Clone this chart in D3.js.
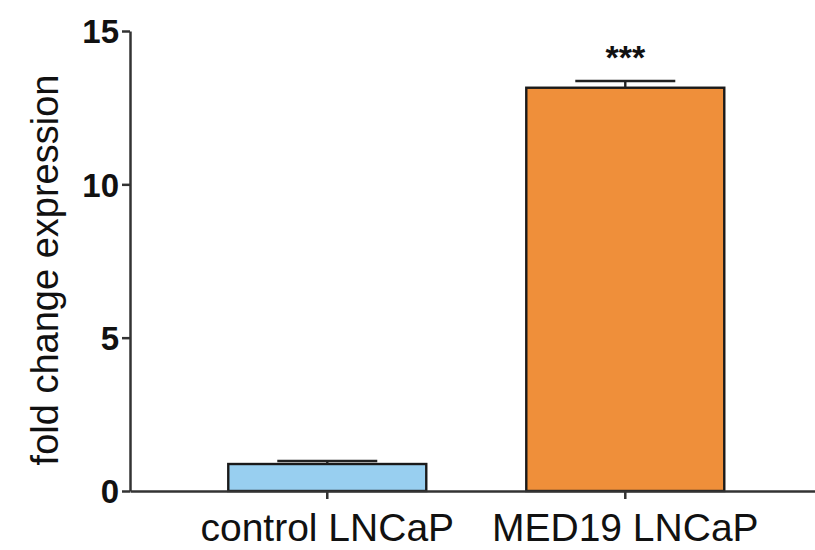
<!DOCTYPE html>
<html>
<head>
<meta charset="utf-8">
<script src="https://d3js.org/d3.v7.min.js"></script>
<style>
  html, body { margin: 0; padding: 0; background: #fff; }
  svg { display: block; }
</style>
</head>
<body>
<svg id="chart" width="815" height="550"></svg>
<script>
// Data
const categories = ["control LNCaP", "MED19 LNCaP"];
const means = [0.88, 13.15];
const errors = [0.1, 0.22];
const barColors = ["#98cff0", "#ef8f3a"];
const significance = ["", "***"];
const yTicks = [0, 5, 10, 15];
const yLabel = "fold change expression";

const svg = d3.select("#chart");
const W = 815;

const x = d3.scaleBand()
  .domain(categories)
  .range([130, W])
  .paddingInner(0.3356)
  .paddingOuter(0.3171)
  .align(0.52);

const y = d3.scaleLinear().domain([0, 15]).range([491, 31]);

const rows = categories.map((c, i) => ({
  cat: c, mean: means[i], err: errors[i], color: barColors[i], sig: significance[i]
}));

// Bars
svg.append("g").selectAll("rect")
  .data(rows)
  .join("rect")
  .attr("x", d => x(d.cat))
  .attr("y", d => y(d.mean))
  .attr("width", x.bandwidth())
  .attr("height", d => y(0) - y(d.mean))
  .attr("fill", d => d.color)
  .attr("stroke", "#1a1a1a")
  .attr("stroke-width", 2.4);

// Error bars (upper only)
const capW = 100;
const eb = svg.append("g").attr("stroke", "#222").attr("stroke-width", 2.4);
eb.selectAll("line.v")
  .data(rows)
  .join("line")
  .attr("class", "v")
  .attr("x1", d => x(d.cat) + x.bandwidth() / 2)
  .attr("x2", d => x(d.cat) + x.bandwidth() / 2)
  .attr("y1", d => y(d.mean))
  .attr("y2", d => y(d.mean + d.err));
eb.selectAll("line.c")
  .data(rows)
  .join("line")
  .attr("class", "c")
  .attr("x1", d => x(d.cat) + x.bandwidth() / 2 - capW / 2)
  .attr("x2", d => x(d.cat) + x.bandwidth() / 2 + capW / 2)
  .attr("y1", d => y(d.mean + d.err))
  .attr("y2", d => y(d.mean + d.err));

// Significance markers
svg.append("g").selectAll("text")
  .data(rows.filter(d => d.sig))
  .join("text")
  .attr("x", d => x(d.cat) + x.bandwidth() / 2)
  .attr("y", d => y(d.mean + d.err) - 12)
  .attr("text-anchor", "middle")
  .attr("font-family", "Liberation Sans, Arial, sans-serif")
  .attr("font-weight", "bold")
  .attr("font-size", 34)
  .attr("fill", "#111")
  .text(d => d.sig);

// Y axis
const yAxis = svg.append("g")
  .attr("transform", "translate(130,0)")
  .call(d3.axisLeft(y).tickValues(yTicks).tickSize(8).tickSizeOuter(0).tickPadding(3));
yAxis.select(".domain").attr("stroke", "#333").attr("stroke-width", 2.5);
yAxis.selectAll(".tick line").attr("stroke", "#333").attr("stroke-width", 2.5);
yAxis.selectAll(".tick text")
  .attr("font-family", "Liberation Sans, Arial, sans-serif")
  .attr("font-weight", "bold")
  .attr("font-size", 33)
  .attr("fill", "#111")
  .attr("dy", "0.36em");

// X axis
const xAxis = svg.append("g")
  .attr("transform", `translate(0,${y(0)})`)
  .call(d3.axisBottom(x).tickSize(8).tickSizeOuter(0).tickPadding(14));
xAxis.select(".domain").attr("stroke", "#333").attr("stroke-width", 2.5);
xAxis.selectAll(".tick line").attr("stroke", "#333").attr("stroke-width", 2.5);
xAxis.selectAll(".tick text")
  .attr("font-family", "Liberation Sans, Arial, sans-serif")
  .attr("font-size", 39)
  .attr("fill", "#111")
  .attr("dy", "0.71em");

// Y axis title
svg.append("text")
  .attr("transform", "translate(58,270) rotate(-90)")
  .attr("text-anchor", "middle")
  .attr("font-family", "Liberation Sans, Arial, sans-serif")
  .attr("font-size", 38)
  .attr("fill", "#111")
  .text(yLabel);
</script>
</body>
</html>
